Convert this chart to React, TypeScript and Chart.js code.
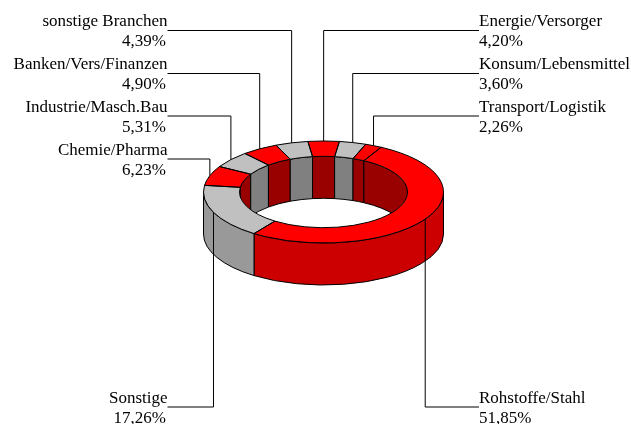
import React, { useEffect, useRef } from "react";
import { Chart, registerables } from "chart.js";

Chart.register(...registerables);

const categories = [
  "Energie/Versorger",
  "Konsum/Lebensmittel",
  "Transport/Logistik",
  "Rohstoffe/Stahl",
  "Sonstige",
  "Chemie/Pharma",
  "Industrie/Masch.Bau",
  "Banken/Vers/Finanzen",
  "sonstige Branchen",
];
const shares = [4.2, 3.6, 2.26, 51.85, 17.26, 6.23, 5.31, 4.9, 4.39];
const topColors = ["#ff0000", "#c0c0c0", "#ff0000", "#ff0000", "#c0c0c0", "#ff0000", "#c0c0c0", "#ff0000", "#c0c0c0"];
const outerWallColors = ["#cc0000", "#999999", "#cc0000", "#cc0000", "#999999", "#cc0000", "#999999", "#cc0000", "#999999"];
const innerWallColors = ["#990000", "#808080", "#990000", "#990000", "#808080", "#990000", "#808080", "#990000", "#808080"];

// Layout of the tilted ring and its label columns
const W = 631;
const H = 424;
const CX = 323.5;
const CY = 192;
const R = 120;
const RY = 51;
const DEPTH = 42;
const SQUASH = RY / R;
const ROTATION = -7.5;
const LEFT_X = 167.5;
const RIGHT_X = 479;
const LEADER_ROW = [30.5, 73.5, 116, 407, 407, 159, 116, 73.5, 30.5];
const FONT = '17px "Liberation Serif"';

const fmt = (v: number) => v.toFixed(2).replace(".", ",") + "%";

function px(r: number, a: number) {
  return CX + r * Math.cos(a);
}
function py(r: number, a: number, dy = 0) {
  return CY + r * SQUASH * Math.sin(a) + dy;
}

function wallPath(ctx: CanvasRenderingContext2D, r: number, a0: number, a1: number) {
  ctx.beginPath();
  ctx.ellipse(CX, CY, r, r * SQUASH, 0, a0, a1, false);
  ctx.lineTo(px(r, a1), py(r, a1, DEPTH));
  ctx.ellipse(CX, CY + DEPTH, r, r * SQUASH, 0, a1, a0, true);
  ctx.closePath();
}

function facePath(ctx: CanvasRenderingContext2D, ro: number, ri: number, a0: number, a1: number) {
  ctx.beginPath();
  ctx.ellipse(CX, CY, ro, ro * SQUASH, 0, a0, a1, false);
  ctx.ellipse(CX, CY, ri, ri * SQUASH, 0, a1, a0, true);
  ctx.closePath();
}

function clipRange(a0: number, a1: number, lo: number, hi: number): [number, number] | null {
  const s = Math.max(a0, lo);
  const e = Math.min(a1, hi);
  return e > s ? [s, e] : null;
}

const ringPlugin = {
  id: "ring3d",
  beforeDatasetDraw(chart: any) {
    const ctx: CanvasRenderingContext2D = chart.ctx;
    const arcs = chart.getDatasetMeta(0).data;
    ctx.save();
    ctx.lineWidth = 1;
    ctx.strokeStyle = "#000";
    ctx.lineJoin = "round";

    // Outer wall: only the front half of the ring shows it
    arcs.forEach((arc: any, i: number) => {
      const p = arc.getProps(["startAngle", "endAngle", "outerRadius"], true);
      const range = clipRange(p.startAngle, p.endAngle, 0, Math.PI);
      if (!range) return;
      wallPath(ctx, p.outerRadius, range[0], range[1]);
      ctx.fillStyle = outerWallColors[i];
      ctx.fill();
      ctx.stroke();
    });

    // Inner wall: back half, seen through the hole
    ctx.save();
    const first = arcs[0].getProps(["innerRadius"], true);
    ctx.beginPath();
    ctx.ellipse(CX, CY, first.innerRadius, first.innerRadius * SQUASH, 0, 0, Math.PI * 2);
    ctx.clip();
    arcs.forEach((arc: any, i: number) => {
      const p = arc.getProps(["startAngle", "endAngle", "innerRadius"], true);
      const ranges = [
        clipRange(p.startAngle, p.endAngle, -Math.PI, 0),
        clipRange(p.startAngle, p.endAngle, Math.PI, Math.PI * 2),
      ];
      ranges.forEach((range) => {
        if (!range) return;
        wallPath(ctx, p.innerRadius, range[0], range[1]);
        ctx.fillStyle = innerWallColors[i];
        ctx.fill();
        ctx.stroke();
      });
    });
    ctx.restore();
    ctx.restore();

    // Squash the library's own arcs into the tilted top face
    ctx.save();
    ctx.translate(CX, CY);
    ctx.scale(1, SQUASH);
    ctx.translate(-CX, -CY);
  },
  afterDatasetDraw(chart: any) {
    const ctx: CanvasRenderingContext2D = chart.ctx;
    ctx.restore();
    const arcs = chart.getDatasetMeta(0).data;
    ctx.save();
    ctx.lineWidth = 1;
    ctx.strokeStyle = "#000";
    ctx.lineJoin = "round";
    arcs.forEach((arc: any) => {
      const p = arc.getProps(["startAngle", "endAngle", "outerRadius", "innerRadius"], true);
      facePath(ctx, p.outerRadius, p.innerRadius, p.startAngle, p.endAngle);
      ctx.stroke();
    });

    // Leader lines and labels
    ctx.font = FONT;
    ctx.fillStyle = "#000";
    ctx.textBaseline = "alphabetic";
    arcs.forEach((arc: any, i: number) => {
      const p = arc.getProps(["startAngle", "endAngle", "outerRadius"], true);
      const mid = (p.startAngle + p.endAngle) / 2;
      const x = px(p.outerRadius, mid);
      const y = py(p.outerRadius, mid);
      const row = LEADER_ROW[i];
      const right = Math.cos(mid) > 0;
      const end = right ? RIGHT_X : LEFT_X;
      ctx.beginPath();
      ctx.moveTo(x, y);
      ctx.lineTo(x, row);
      ctx.lineTo(end, row);
      ctx.stroke();
      ctx.textAlign = right ? "left" : "right";
      ctx.fillText(categories[i], end, row - 4.5);
      ctx.fillText(fmt(shares[i]), right ? end : end - 1.5, row + 15.5);
    });
    ctx.restore();
  },
};

export default function App() {
  const ref = useRef<HTMLCanvasElement>(null);
  useEffect(() => {
    const chart = new Chart(ref.current!, {
      type: "doughnut",
      data: {
        labels: categories,
        datasets: [
          {
            data: shares,
            backgroundColor: topColors,
            borderWidth: 0,
            clip: false,
          } as any,
        ],
      },
      options: {
        responsive: false,
        animation: false,
        devicePixelRatio: 1,
        rotation: ROTATION,
        cutout: "70%",
        layout: {
          padding: { left: CX - R, right: W - CX - R, top: CY - R, bottom: H - CY - R },
        },
        plugins: { legend: { display: false }, tooltip: { enabled: false } },
      },
      plugins: [ringPlugin],
    });
    return () => chart.destroy();
  }, []);
  return (
    <canvas
      ref={ref}
      width={W}
      height={H}
      style={{ position: "absolute", left: 0, top: 0, display: "block" }}
    />
  );
}
